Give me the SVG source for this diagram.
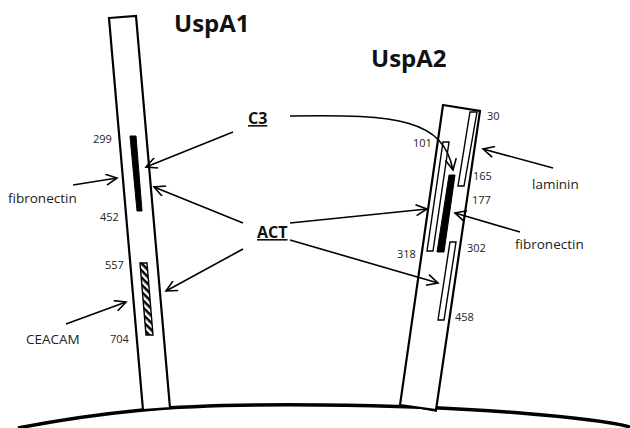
<svg xmlns="http://www.w3.org/2000/svg" width="630" height="428" viewBox="0 0 630 428">
<defs>
<style>
.stalk{fill:#fff;stroke:#000;stroke-width:2.2;stroke-linejoin:miter}
.bar{fill:#fff;stroke:#000;stroke-width:1.4}
.solid{fill:#000;stroke:#000;stroke-width:1}
.hatch{fill:url(#hatch);stroke:#000;stroke-width:1.4}
.arr{fill:none;stroke:#000;stroke-width:1.6;marker-end:url(#open)}
.num{font-family:"Open Sans","Liberation Sans",sans-serif;font-size:11px;fill:#222}
.lbl{font-family:"Open Sans","Liberation Sans",sans-serif;font-size:13.5px;fill:#222}
.title{font-family:"Open Sans","Liberation Sans",sans-serif;font-size:24px;font-weight:bold;fill:#111}
.key{font-family:"Open Sans","Liberation Sans",sans-serif;font-size:16px;font-weight:bold;fill:#111;text-decoration:underline}
</style>
<marker id="open" viewBox="-12 -6 14 12" refX="0" refY="0" markerWidth="14" markerHeight="12" markerUnits="userSpaceOnUse" orient="auto">
<path d="M-11,-5.5 L0,0 L-11,5.5" fill="none" stroke="#000" stroke-width="1.6"/>
</marker>
<pattern id="hatch" width="5" height="5" patternUnits="userSpaceOnUse" patternTransform="rotate(45)">
<rect width="5" height="5" fill="#fff"/>
<rect width="5" height="2.5" fill="#000"/>
</pattern>
</defs>

<g id="membrane">
<path d="M18,428 Q80,416 143,410 T320,405 T520,413 T630,427" fill="none" stroke="#000" stroke-width="3.5"/>
<path d="M400,405 L437,412 L436,407 Z" fill="#000"/>
</g>

<g id="uspa1">
<polygon class="stalk" points="109,18 136,16 170,408 143,410"/>
<polygon class="solid" points="130,136 136,136 142,211 137,211"/>
<polygon class="hatch" points="140,263 147,263 153,335 146,335"/>
<text class="title" x="174" y="32">UspA1</text>
<text class="num" x="93" y="143">299</text>
<text class="num" x="100" y="221">452</text>
<text class="num" x="105" y="269">557</text>
<text class="num" x="110" y="343">704</text>
</g>

<g id="uspa2">
<polygon class="stalk" points="443,105 480,111 436,410 400,405"/>
<polygon class="bar" points="470,112 477,112 464,186 458,186"/>
<polygon class="bar" points="443,142 449,142 433,251 427,251"/>
<polygon class="solid" points="449,175 455,175 444,252 437,252"/>
<polygon class="bar" points="450,242 456,242 444,320 438,320"/>
<text class="title" x="371" y="67">UspA2</text>
<text class="num" x="487" y="120">30</text>
<text class="num" x="413" y="147">101</text>
<text class="num" x="473" y="180">165</text>
<text class="num" x="472" y="204">177</text>
<text class="num" x="467" y="252">302</text>
<text class="num" x="397" y="258">318</text>
<text class="num" x="455" y="321">458</text>
</g>

<g id="c3"><text class="key" x="248" y="124">C3</text></g>
<g id="act"><text class="key" x="257" y="238">ACT</text></g>
<g id="fibronectin1"><text class="lbl" x="8" y="203">fibronectin</text></g>
<g id="ceacam"><text class="lbl" x="26" y="344">CEACAM</text></g>
<g id="laminin"><text class="lbl" x="532" y="189">laminin</text></g>
<g id="fibronectin2"><text class="lbl" x="515" y="249">fibronectin</text></g>

<g id="connectors">
<line class="arr" x1="233" y1="132" x2="146" y2="167"/>
<line class="arr" x1="73" y1="185" x2="117" y2="178"/>
<line class="arr" x1="243" y1="223" x2="154" y2="187"/>
<line class="arr" x1="243" y1="249" x2="166" y2="291"/>
<line class="arr" x1="66" y1="324" x2="126" y2="302"/>
<path class="arr" d="M290,116 C400,114 443,120 453,170"/>
<line class="arr" x1="290" y1="223" x2="427" y2="209"/>
<line class="arr" x1="290" y1="240" x2="438" y2="283"/>
<line class="arr" x1="553" y1="168" x2="483" y2="149"/>
<line class="arr" x1="520" y1="232" x2="455" y2="213"/>
</g>
</svg>
